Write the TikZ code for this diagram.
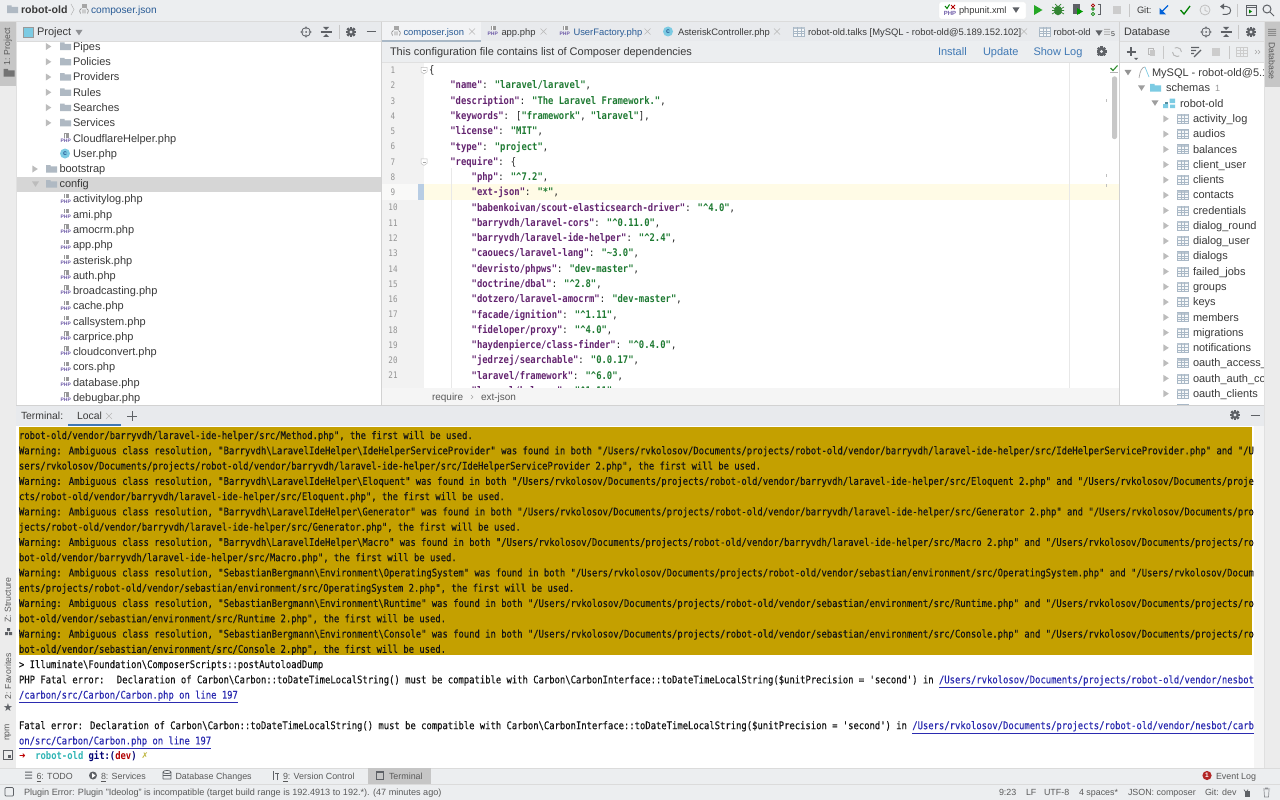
\documentclass[tikz,border=0pt]{standalone}
\usepackage{fontspec}
\setmainfont{Liberation Sans}
\newfontfamily\monof[FakeStretch=0.8445]{DejaVu Sans Mono}
\newfontfamily\termf[FakeStretch=0.8445,FakeBold=0.3]{DejaVu Sans Mono}
\newfontfamily\symf{DejaVu Sans}
\definecolor{barbg}{HTML}{ECEEF0}
\definecolor{hdrbg}{HTML}{E8EAED}
\definecolor{stripbg}{HTML}{ECECEC}
\definecolor{tabgrey}{HTML}{C6C6C6}
\definecolor{sel}{HTML}{D6D6D6}
\definecolor{rulec}{HTML}{D2D2D2}
\definecolor{uidark}{HTML}{3A3A3A}
\definecolor{uigrey}{HTML}{5A5A5A}
\definecolor{tabblue}{HTML}{2A5C96}
\definecolor{linkb}{HTML}{3F78B4}
\definecolor{amber}{HTML}{C4A000}
\definecolor{jkey}{HTML}{63236F}
\definecolor{jval}{HTML}{1E7A32}
\definecolor{folderc}{HTML}{AFB9C3}
\definecolor{arrowc}{HTML}{BCBCBC}
\definecolor{iconc}{HTML}{5E6166}
\definecolor{phpc}{HTML}{6E5BA8}
\definecolor{cyanc}{HTML}{7CCBE3}
\definecolor{tablec}{HTML}{A9B8C6}
\definecolor{termlink}{HTML}{2B2BB0}
\definecolor{caretc}{HTML}{FFFBE6}
\definecolor{changec}{HTML}{B8CDE4}
\definecolor{promptc}{HTML}{2FB5B5}
\newcount\nid
\tikzset{
 uit/.style={anchor=west,inner sep=0pt,outer sep=0pt,text height=10pt,text depth=2.5pt,text=uidark,font=\fontsize{11}{13}\selectfont},
 tabt/.style={uit,font=\fontsize{9.4}{12}\selectfont},
 termt/.style={uit,font=\fontsize{10.4}{12}\selectfont},
 stat/.style={uit,text=uigrey,font=\fontsize{8.9}{12}\selectfont},
 statl/.style={uit,text=uigrey,font=\fontsize{9.1}{12}\selectfont},
 mono/.style={anchor=west,inner sep=0pt,outer sep=0pt,text height=9.3pt,text depth=2.5pt,text=black!88,font=\monof\fontsize{10.5}{12}\selectfont},
 term/.style={mono,text=black!92,font=\termf\fontsize{10.5}{12}\selectfont},
 side/.style={inner sep=0pt,outer sep=0pt,rotate=90,text=uigrey,font=\fontsize{8.7}{12}\selectfont},
}
\newcommand\tx[4][]{\global\advance\nid by 1 \node[uit,#1] (n\the\nid) at (#2,#3) {#4};}
\newcommand\mo[4][]{\global\advance\nid by 1 \node[mono,#1] (n\the\nid) at (#2,#3) {#4};}
\newcommand\bs{\textbackslash}
\newcommand\ca{\textasciicircum}
% icons
\newcommand\folic[3][folderc]{\fill[#1] (#2,#3-4) rectangle (#2+4.5,#3+3.6) (#2,#3-2.6) rectangle (#2+11,#3+3.6);}
\newcommand\phpic[2]{\fill[black!40] (#1+4,#2-5.5) rectangle (#1+9,#2-1);\fill[white] (#1+5,#2-5) -- (#1+6,#2-5)--(#1+6,#2-1)--(#1+5,#2-1)--cycle;
 \global\advance\nid by 1 \node[inner sep=0pt,text=phpc,font=\bfseries\fontsize{5}{5}\selectfont] (n\the\nid) at (#1+5.7,#2+2.3) {PHP};}
\newcommand\cic[2]{\fill[cyanc] (#1,#2) circle (5); \global\advance\nid by 1 \node[inner sep=0pt,text=tabblue,font=\bfseries\fontsize{7}{7}\selectfont] (n\the\nid) at (#1,#2-.3) {c};}
\newcommand\jsic[2]{\fill[black!35] (#1+3,#2-5.5) rectangle (#1+8,#2-1.5);\draw[black!45,line width=.7pt] (#1+1.5,#2+4) .. controls (#1,#2+1) and (#1+1,#2-1) .. (#1+2.5,#2-1) (#1+8.5,#2+4) .. controls (#1+10,#2+1) and (#1+9,#2-1) .. (#1+7.5,#2-1) (#1+4,#2) -- (#1+4,#2+4) (#1+6,#2) -- (#1+6,#2+4);}
\newcommand\tblic[2]{\draw[tablec,line width=.7pt,fill=tablec!10] (#1,#2-4.5) rectangle (#1+11,#2+4.5);\fill[tablec!80] (#1,#2-4.5) rectangle (#1+11,#2-2.6);\draw[tablec,line width=.4pt] (#1+3.7,#2-4.5) -- (#1+3.7,#2+4.5) (#1+7.3,#2-4.5) -- (#1+7.3,#2+4.5) (#1,#2-.5) -- (#1+11,#2-.5) (#1,#2+2) -- (#1+11,#2+2);}
\newcommand\tri[2]{\fill[arrowc] (#1-2.6,#2-3.5) -- (#1+2.8,#2) -- (#1-2.6,#2+3.5) -- cycle;}
\newcommand\dtri[3][arrowc]{\fill[#1] (#2-3.5,#3-2.6) -- (#2+3.5,#3-2.6) -- (#2,#3+2.8) -- cycle;}
\newcommand\xx[2]{\draw[black!28,line width=.6pt] (#1-3,#2-3) -- (#1+3,#2+3) (#1-3,#2+3) -- (#1+3,#2-3);}
\newcommand\gear[3][iconc]{\fill[#1] (#2,#3) circle (3.6);\foreach \a in {0,45,...,315}{\fill[#1,shift={(#2,#3)},rotate=\a] (-1.1,-5) rectangle (1.1,5);}\fill[hdrbg] (#2,#3) circle (1.7);}
\newcommand\cross[2]{\draw[iconc,line width=.8pt] (#1,#2) circle (4.4) (#1-5.6,#2) -- (#1-2.5,#2) (#1+2.5,#2) -- (#1+5.6,#2) (#1,#2-5.6) -- (#1,#2-2.5) (#1,#2+2.5) -- (#1,#2+5.6);\fill[iconc] (#1,#2) circle (1);}
\newcommand\coll[2]{\draw[iconc,line width=.8pt] (#1-5.5,#2-.8) -- (#1+5.5,#2-.8) (#1-5.5,#2+.8) -- (#1+5.5,#2+.8);\fill[iconc] (#1-3,#2-5) -- (#1+3,#2-5) -- (#1,#2-2) -- cycle (#1-3,#2+5) -- (#1+3,#2+5) -- (#1,#2+2) -- cycle;}
\newcommand\dashic[2]{\draw[iconc,line width=1pt] (#1-4.5,#2) -- (#1+4.5,#2);}
\newcommand\vsep[3]{\draw[black!22,line width=.6pt] (#1,#2) -- (#1,#3);}
\begin{document}
\begin{tikzpicture}[x=1pt,y=-1pt]
\useasboundingbox (0,0) rectangle (1280,800);
\fill[barbg] (0,0) rectangle (1280,800);
% ---------- white panels
\fill[white] (16,42) rectangle (381,405);
\fill[white] (382,62) rectangle (1119,388);
\fill[white] (1120,62) rectangle (1264,405);
% ---------- project tree
\fill[sel] (16,176.5) rectangle (381,191.7);
\foreach \nm [count=\k from 0] in {Pipes,Policies,Providers,Rules,Searches,Services}{
 \pgfmathsetmacro\yy{46.5+15.27*\k}
 \tri{48.5}{\yy}\folic{60}{\yy}\tx{73}{\yy}{\nm}}
\phpic{60}{138.5}\tx{73}{138.5}{CloudflareHelper.php}
\cic{65}{153.5}\tx{73}{153.5}{User.php}
\tri{35}{169}\folic{46}{169}\tx{59.5}{169}{bootstrap}
\dtri{35.5}{184}\folic{46}{184}\tx{59.5}{184}{config}
\foreach \nm [count=\k from 0] in {activitylog,ami,amocrm,app,asterisk,auth,broadcasting,cache,callsystem,carprice,cloudconvert,cors,database,debugbar}{
 \pgfmathsetmacro\yy{199.2+15.27*\k}
 \phpic{60}{\yy}\tx{73}{\yy}{\nm.php}}
% ---------- editor
\fill[black!5] (382,62) rectangle (424,388);
\fill[caretc] (424,184) rectangle (1119,199.5);
\fill[caretc!50!black!5] (382,184) rectangle (418,199.5);
\fill[changec] (418,184) rectangle (424,199.5);
\draw[black!9,line width=.7pt] (1069,62) -- (1069,388);
\draw[black!9,line width=.7pt] (451,168) -- (451,388);
\foreach \k in {1,...,21}{
 \pgfmathsetmacro\yy{70.3+15.27*(\k-1)}
 \global\advance\nid by 1
 \node[inner sep=0pt,text=black!42,text height=6.5pt,text depth=0pt,font=\monof\fontsize{9}{10}\selectfont] (n\the\nid) at (393,\yy) {\k};}
\foreach \yy in {70.3,161.9}{\draw[black!25,fill=white,line width=.5pt] (421,\yy-3) -- (427,\yy-3) -- (427,\yy+1.5) -- (424,\yy+3.5) -- (421,\yy+1.5) -- cycle;\draw[black!35,line width=.5pt] (422.5,\yy) -- (425.5,\yy);}
\newcommand\J[3]{\pgfmathsetmacro\yy{70.3+15.27*(#1-1)}\pgfmathsetmacro\xq{429+5.338*#2}\mo{\xq}{\yy}{#3}}
\newcommand\K[1]{{\color{jkey}\bfseries"#1"}}
\newcommand\V[1]{{\color{jval}\bfseries"#1"}}
\J{1}{0}{\{}
\J{2}{4}{\K{name}: \V{laravel/laravel},}
\J{3}{4}{\K{description}: \V{The Laravel Framework.},}
\J{4}{4}{\K{keywords}: [\V{framework}, \V{laravel}],}
\J{5}{4}{\K{license}: \V{MIT},}
\J{6}{4}{\K{type}: \V{project},}
\J{7}{4}{\K{require}: \{}
\J{8}{8}{\K{php}: \V{\ca7.2},}
\J{9}{8}{\K{ext-json}: \V{*},}
\J{10}{8}{\K{babenkoivan/scout-elasticsearch-driver}: \V{\ca4.0},}
\J{11}{8}{\K{barryvdh/laravel-cors}: \V{\ca0.11.0},}
\J{12}{8}{\K{barryvdh/laravel-ide-helper}: \V{\ca2.4},}
\J{13}{8}{\K{caouecs/laravel-lang}: \V{\textasciitilde3.0},}
\J{14}{8}{\K{devristo/phpws}: \V{dev-master},}
\J{15}{8}{\K{doctrine/dbal}: \V{\ca2.8},}
\J{16}{8}{\K{dotzero/laravel-amocrm}: \V{dev-master},}
\J{17}{8}{\K{facade/ignition}: \V{\ca1.11},}
\J{18}{8}{\K{fideloper/proxy}: \V{\ca4.0},}
\J{19}{8}{\K{haydenpierce/class-finder}: \V{\ca0.4.0},}
\J{20}{8}{\K{jedrzej/searchable}: \V{0.0.17},}
\J{21}{8}{\K{laravel/framework}: \V{\ca6.0},}
\J{22}{8}{\K{laravel/helpers}: \V{\ca1.11},}
% editor scrollbar and marks
\fill[black!22,rounded corners=2pt] (1112,76.5) rectangle (1117,139);
\draw[green!45!black!80,line width=1.1pt] (1110.5,68) -- (1113,70.5) -- (1117.5,65.5);
\fill[black!30] (1110,72) rectangle (1118,72.8);
\foreach \yy in {100,175,185}{\fill[black!25] (1105.6,\yy-1.5) rectangle (1106.6,\yy+1.5);}
% breadcrumb
\fill[black!4] (382,388) rectangle (1119,405);
\tx[text=uigrey,font=\fontsize{10}{12}\selectfont]{432}{397}{require}
\draw[black!35,line width=.5pt] (471,395) -- (473,397) -- (471,399);
\tx[text=uigrey,font=\fontsize{10}{12}\selectfont]{481}{397}{ext-json}
% ---------- database tree
\dtri[black!42]{1128}{72.5}
\draw[black!35,line width=.7pt] (1139,78) .. controls (1140,71) and (1142,67) .. (1145,67);
\draw[cyanc,line width=.7pt] (1145,67) -- (1149,77);
\tx{1152}{73}{MySQL - robot-old@5.1}
\dtri[black!38]{1141.5}{88}
\folic[cyanc]{1150}{88}
\tx{1166}{88}{schemas}
\tx[text=black!40,font=\fontsize{9}{11}\selectfont]{1215}{88}{1}
\dtri[black!38]{1155}{103}
\fill[cyanc] (1169.5,98.5) rectangle (1175,103) (1163,104) rectangle (1168,108) (1170,104.5) rectangle (1175,108);
\fill[cyanc!70!black] (1165,101.5) rectangle (1168,104);
\tx{1180}{103.5}{robot-old}
\foreach \nm [count=\k from 0] in {activity\_log,audios,balances,client\_user,clients,contacts,credentials,dialog\_round,dialog\_user,dialogs,failed\_jobs,groups,keys,members,migrations,notifications,oauth\_access\_,oauth\_auth\_co,oauth\_clients}{
 \pgfmathsetmacro\yy{118.8+15.27*\k}
 \tri{1166}{\yy}\tblic{1177}{\yy}\tx{1193}{\yy}{\nm}}
\tri{1166}{409}\tblic{1177}{409}
% ---------- top bar
\fill[barbg] (0,0) rectangle (1280,21);
\draw[black!14,line width=.6pt] (0,21.3) -- (1280,21.3);
\folic{7}{9.5}
\tx[font=\bfseries\fontsize{10.6}{12}\selectfont]{21}{9.5}{robot-old}
\draw[black!30,line width=.5pt] (71,4) -- (74,9.5) -- (71,15);
\jsic{79}{9.5}
\tx[text=tabblue,font=\fontsize{10.2}{12}\selectfont]{91}{9.7}{composer.json}
\fill[white,rounded corners=2pt,draw=black!8,line width=.4pt] (939,2) rectangle (1026,19);
\draw[green!50!black,line width=1pt] (945,6) -- (947,8.5) -- (949.5,4.5);
\draw[red!70!black,line width=1pt] (951,5) -- (955,9) (955,5) -- (951,9);
\global\advance\nid by 1
\node[inner sep=0pt,text=phpc,font=\bfseries\fontsize{6}{6}\selectfont] (n\the\nid) at (950,13) {PHP};
\tx[font=\fontsize{9.3}{12}\selectfont]{959}{10}{phpunit.xml}
\dtri[iconc]{1016}{10}
\fill[green!60!black!85] (1034,5) -- (1042.5,10) -- (1034,15) -- cycle;
\fill[green!40!black!80] (1058,10.5) ellipse (4 and 4.8);\draw[green!40!black!80,line width=.7pt] (1052,7) -- (1064,14) (1052,14) -- (1064,7) (1052,10.5) -- (1064,10.5) (1055,4) -- (1057,6) (1061,4) -- (1059,6);
\fill[iconc] (1073,4.5) rectangle (1080,14.5);\fill[green!60!black] (1077,8) -- (1083,11.5) -- (1077,15) -- cycle;
\draw[red!65!black,line width=.7pt] (1093,5.5) circle (1.7);\draw[green!50!black,line width=.7pt] (1093,14) circle (1.7);\draw[green!50!black,line width=.7pt] (1093,9) circle (1.4);
\draw[iconc,line width=1pt] (1098,4.5) -- (1100,4.5) -- (1100,15) -- (1098,15);
\fill[black!20] (1113,6) rectangle (1121,14);
\vsep{1129}{4}{17}
\tx[font=\fontsize{9.3}{12}\selectfont]{1137}{10}{Git:}
\draw[-,blue!55!cyan!85!black,line width=1.3pt] (1168,5.5) -- (1161,12.5);
\fill[blue!55!cyan!85!black] (1159.5,8) -- (1159.5,14.5) -- (1166,14.5) -- cycle;
\draw[green!50!black,line width=1.3pt] (1180.5,10) -- (1184,14) -- (1190,6);
\draw[black!25,line width=.8pt] (1205,10) circle (5) (1205,7) -- (1205,10.5) -- (1207.5,11.5);
\draw[iconc,line width=1pt] (1222,6.5) -- (1226.5,6.5) .. controls (1232,6.5) and (1232,14.5) .. (1226.5,14.5) -- (1222.5,14.5);
\fill[iconc] (1224,3.5) -- (1220,6.5) -- (1224,9.5) -- cycle;
\vsep{1237}{4}{17}
\draw[iconc,line width=.8pt] (1246,5) rectangle (1256,15) (1246,7.5) -- (1256,7.5);\fill[green!50!black] (1249,9.5) -- (1252,11.5) -- (1249,13.5) -- cycle;
\draw[iconc,line width=1pt] (1267,9) circle (4) (1270,12) -- (1274,16);
% ---------- panel headers
\fill[hdrbg] (16,22) rectangle (381,41.5);
\draw[black!14,line width=.6pt] (16,41.7) -- (381,41.7);
\fill[cyanc,draw=black!40,line width=.4pt] (23,27) rectangle (33,37);
\fill[black!40] (23,27) rectangle (33,28.5);
\tx{37}{32}{Project}
\dtri[iconc!70]{79}{32.5}
\cross{306}{32}\coll{326}{32}\vsep{339}{25}{39}\gear{351}{32}\dashic{371}{32}
% editor tabs
\fill[hdrbg] (382,22) rectangle (1119,41);
\fill[barbg!70!white] (382,22) rectangle (481,40);
\fill[tablec] (382,39.8) rectangle (481,41.6);
\jsic{391}{31.5}
\tx[tabt,text=tabblue]{403.5}{31.5}{composer.json}\xx{472}{31.5}
\phpic{487}{31.5}\tx[tabt]{501.5}{31.5}{app.php}\xx{543.5}{31.5}
\phpic{559}{31.5}\tx[tabt,text=tabblue]{573.5}{31.5}{UserFactory.php}\xx{647.5}{31.5}
\cic{668}{31.5}\tx[tabt]{678}{31.5}{AsteriskController.php}\xx{777}{31.5}
\tblic{793.5}{31.5}\tx[tabt]{808}{31.5}{robot-old.talks [MySQL - robot-old@5.189.152.102]}\xx{1024}{31.5}
\tblic{1039}{31.5}\tx[tabt]{1053.5}{31.5}{robot-old}
\dtri[iconc]{1099}{33}
\fill[black!30] (1104,29) rectangle (1110,30) (1104,31.5) rectangle (1110,32.5) (1104,34) rectangle (1110,35);
\tx[font=\fontsize{7}{8}\selectfont]{1111}{32.5}{5}
% notification bar
\fill[barbg] (382,42) rectangle (1119,62);
\draw[black!12,line width=.5pt] (382,62.2) -- (1119,62.2);
\tx{390}{52}{This configuration file contains list of Composer dependencies}
\tx[text=linkb]{938}{51.5}{Install}
\tx[text=linkb]{983}{51.5}{Update}
\tx[text=linkb]{1033.5}{51.5}{Show Log}
\gear{1101.5}{51.5}
% database header
\fill[hdrbg] (1120,22) rectangle (1264,41.5);
\fill[barbg] (1120,42) rectangle (1264,62.5);
\draw[black!14,line width=.5pt] (1120,41.7) -- (1264,41.7) (1120,62.7) -- (1264,62.7);
\tx[font=\fontsize{10.8}{12}\selectfont]{1124}{32}{Database}
\cross{1206}{32}\coll{1226}{32}\vsep{1238}{25}{39}\gear{1251}{32}
\draw[iconc,line width=1.2pt] (1126.5,52) -- (1135.5,52) (1131,47.5) -- (1131,56.5);
\fill[iconc] (1134,58) -- (1138,58) -- (1136,60) -- cycle;
\draw[black!28,line width=.7pt] (1148,48) rectangle (1153,54);\fill[black!22] (1150,50) rectangle (1155,56);
\vsep{1163}{46}{59}
\draw[black!28,line width=1pt] (1172.5,52) arc (180:60:4.5) (1181.5,52) arc (0:-120:4.5);
\fill[iconc] (1191,47) rectangle (1199,48.2) (1191,50) rectangle (1196,51.2) (1191,53) rectangle (1194,54.2);
\draw[iconc,line width=1.2pt] (1194,57) -- (1201,50);
\fill[black!20] (1212,48) rectangle (1220,56);
\vsep{1229}{46}{59}
\draw[black!20,line width=.7pt] (1236,47.5) rectangle (1247,56.5) (1236,50) -- (1247,50) (1236,53) -- (1247,53) (1240,47.5) -- (1240,56.5) (1243.5,47.5) -- (1243.5,56.5);
\draw[black!35,line width=.5pt] (1255,50) -- (1257,52) -- (1255,54) (1258,50) -- (1260,52) -- (1258,54);
% vertical dividers
\draw[rulec,line width=.8pt] (381.5,22) -- (381.5,405) (1119.5,22) -- (1119.5,405);
% ---------- side strips
\fill[stripbg] (0,21.6) rectangle (15.6,785);
\fill[stripbg] (1264.6,21.6) rectangle (1280,785);
\draw[black!12,line width=.5pt] (16,21.6) -- (16,785) (1264.5,21.6) -- (1264.5,785);
\fill[tabgrey] (0,21.6) rectangle (15.6,86);
\fill[tabgrey] (1264.8,21.6) rectangle (1280,87);
\global\advance\nid by 1 \node[side] (n\the\nid) at (8,47) {1: Project};
\folic[black!55]{3.5}{73}
\global\advance\nid by 1 \node[side,rotate=180] (n\the\nid) at (1272,61) {Database};
\fill[black!45] (1268,29) rectangle (1276,29.8) (1268,31) rectangle (1276,31.8) (1268,33) rectangle (1276,33.8) (1268,35) rectangle (1276,35.8);
\global\advance\nid by 1 \node[side] (n\the\nid) at (8,600) {Z: Structure};
\fill[iconc] (5,632) rectangle (8,635) (9,632) rectangle (12,635) (7,628) rectangle (10,631);
\global\advance\nid by 1 \node[side] (n\the\nid) at (8,676.5) {2: Favorites};
\global\advance\nid by 1 \node[inner sep=0pt,text=iconc,font=\symf\fontsize{11}{11}\selectfont] (n\the\nid) at (8,708) {★};
\global\advance\nid by 1 \node[side] (n\the\nid) at (8,732.5) {npm};
\draw[iconc,line width=.8pt] (3.5,750.5) rectangle (12.5,759.5);\fill[iconc] (8,755) rectangle (11,758);
% ---------- terminal
\fill[white] (16.4,426) rectangle (1264,768);
\fill[black!4] (1254,426) rectangle (1264,768);
\fill[hdrbg] (16.4,405) rectangle (1264,426);
\draw[rulec,line width=.6pt] (16,405.2) -- (1264,405.2);
\tx[termt]{21}{416}{Terminal:}
\tx[termt]{77}{416}{Local}
\xx{109}{416}
\draw[iconc,line width=1pt] (127,416) -- (137,416) (132,411) -- (132,421);
\fill[linkb] (68,424.3) rectangle (120.5,426);
\gear{1235}{415}\dashic{1255}{415.5}
\fill[amber] (19,426.6) rectangle (1252,655);
\def\wa{Warning: Ambiguous class resolution, }
\def\up{/Users/rvkolosov/Documents/projects/robot-old/vendor/}
\def\lh{barryvdh/laravel-ide-helper/src/}
\def\se{sebastian/environment/src/}
\def\fw{, the first will be used.}
\newcommand\T[2]{\pgfmathsetmacro\yy{435.6+15.27*#1}\mo[term]{19}{\yy}{#2}}
\T{0}{robot-old/vendor/\lh Method.php"\fw}
\T{1}{\wa"Barryvdh\bs LaravelIdeHelper\bs IdeHelperServiceProvider" was found in both "\up\lh IdeHelperServiceProvider.php" and "/U}
\T{2}{sers/rvkolosov/Documents/projects/robot-old/vendor/\lh IdeHelperServiceProvider 2.php"\fw}
\T{3}{\wa"Barryvdh\bs LaravelIdeHelper\bs Eloquent" was found in both "\up\lh Eloquent 2.php" and "/Users/rvkolosov/Documents/proje}
\T{4}{cts/robot-old/vendor/\lh Eloquent.php"\fw}
\T{5}{\wa"Barryvdh\bs LaravelIdeHelper\bs Generator" was found in both "\up\lh Generator 2.php" and "/Users/rvkolosov/Documents/pro}
\T{6}{jects/robot-old/vendor/\lh Generator.php"\fw}
\T{7}{\wa"Barryvdh\bs LaravelIdeHelper\bs Macro" was found in both "\up\lh Macro 2.php" and "/Users/rvkolosov/Documents/projects/ro}
\T{8}{bot-old/vendor/\lh Macro.php"\fw}
\T{9}{\wa"SebastianBergmann\bs Environment\bs OperatingSystem" was found in both "\up\se OperatingSystem.php" and "/Users/rvkolosov/Docum}
\T{10}{ents/projects/robot-old/vendor/\se OperatingSystem 2.php"\fw}
\T{11}{\wa"SebastianBergmann\bs Environment\bs Runtime" was found in both "\up\se Runtime.php" and "/Users/rvkolosov/Documents/projects/ro}
\T{12}{bot-old/vendor/\se Runtime 2.php"\fw}
\T{13}{\wa"SebastianBergmann\bs Environment\bs Console" was found in both "\up\se Console.php" and "/Users/rvkolosov/Documents/projects/ro}
\T{14}{bot-old/vendor/\se Console 2.php"\fw}
\T{15}{> Illuminate\bs Foundation\bs ComposerScripts::postAutoloadDump}
\newcommand\LK[1]{{\color{termlink}\underline{#1}}}
\T{16}{PHP Fatal error: \ Declaration of Carbon\bs Carbon::toDateTimeLocalString() must be compatible with Carbon\bs CarbonInterface::toDateTimeLocalString(\$unitPrecision = 'second') in \LK{\up nesbot}}
\T{17}{\LK{/carbon/src/Carbon/Carbon.php on line 197}}
\T{19}{Fatal error: Declaration of Carbon\bs Carbon::toDateTimeLocalString() must be compatible with Carbon\bs CarbonInterface::toDateTimeLocalString(\$unitPrecision = 'second') in \LK{\up nesbot/carb}}
\T{20}{\LK{on/src/Carbon/Carbon.php on line 197}}
\global\advance\nid by 1 \node[inner sep=0pt,anchor=west,text=red!75!black,font=\symf\fontsize{8}{8}\selectfont] (n\the\nid) at (19,755.8) {➜};
\mo[text=promptc,font=\monof\bfseries\fontsize{10.5}{12}\selectfont]{35.3}{755.8}{robot-old}
\mo[font=\monof\bfseries\fontsize{10.5}{12}\selectfont]{88.6}{755.8}{{\color{blue!45!black}git:(}{\color{red!70!black}dev}{\color{blue!45!black})}}
\global\advance\nid by 1 \node[inner sep=0pt,anchor=west,text=yellow!70!black,font=\symf\fontsize{8}{8}\selectfont] (n\the\nid) at (141.5,755.8) {✗};
% ---------- bottom toolbar
\fill[barbg] (16,768) rectangle (1264,786);
\fill[barbg] (0,768) rectangle (1280,800);
\draw[black!14,line width=.6pt] (0,768) -- (1280,768);
\draw[black!14,line width=.6pt] (0,784.3) -- (1280,784.3);
\fill[tabgrey] (367.5,768.2) rectangle (431,784);
\fill[iconc] (25,771.5) rectangle (32,772.5) (25,774.5) rectangle (32,775.5) (25,777.5) rectangle (32,778.5);
\tx[stat]{36.5}{775.5}{\underline{6}: TODO}
\fill[iconc] (93,775.5) circle (4);\fill[white] (92,773) -- (95.5,775.5) -- (92,778) -- cycle;
\tx[stat]{101}{775.5}{\underline{8}: Services}
\draw[iconc,line width=.7pt] (167,772) ellipse (4 and 1.6) (163,772) -- (163,779) (171,772) -- (171,779) (163,775.5) -- (171,775.5) (163,779) -- (171,779);
\tx[stat]{175.5}{775.5}{Database Changes}
\draw[iconc,line width=.8pt] (273,771) -- (273,780) (277,780) -- (277,773) (275,773) -- (279,773);
\tx[stat]{283}{775.5}{\underline{9}: Version Control}
\fill[iconc] (375.5,771) rectangle (384,780);\fill[tabgrey] (377,773) rectangle (382.5,778.5);
\tx[stat]{389}{775.5}{Terminal}
\fill[red!65!black!85] (1207,775.5) circle (4.6);
\global\advance\nid by 1 \node[inner sep=0pt,text=white,font=\bfseries\fontsize{6.5}{7}\selectfont] (n\the\nid) at (1207,775.5) {1};
\tx[stat]{1216}{775.5}{Event Log}
% status bar
\draw[iconc,line width=.7pt,rounded corners=1pt] (5,787.5) rectangle (13.5,796);
\tx[statl]{24}{792}{Plugin Error: Plugin "Ideolog" is incompatible (target build range is 192.4913 to 192.*). (47 minutes ago)}
\tx[stat]{999}{792}{9:23}
\tx[stat]{1026}{792}{LF}
\tx[stat]{1044}{792}{UTF-8}
\tx[stat]{1079}{792}{4 spaces*}
\tx[stat]{1128}{792}{JSON: composer}
\tx[stat]{1205}{792}{Git: dev}
\fill[iconc] (1245,791) rectangle (1250,797);\draw[iconc,line width=.7pt] (1244,789.5) arc (180:0:2);
\draw[iconc!70,line width=.7pt] (1263,789) -- (1270,789) (1264,790) -- (1264.5,797) -- (1268.5,797) -- (1269,790) (1265,788) -- (1268,788);
\end{tikzpicture}
\end{document}
